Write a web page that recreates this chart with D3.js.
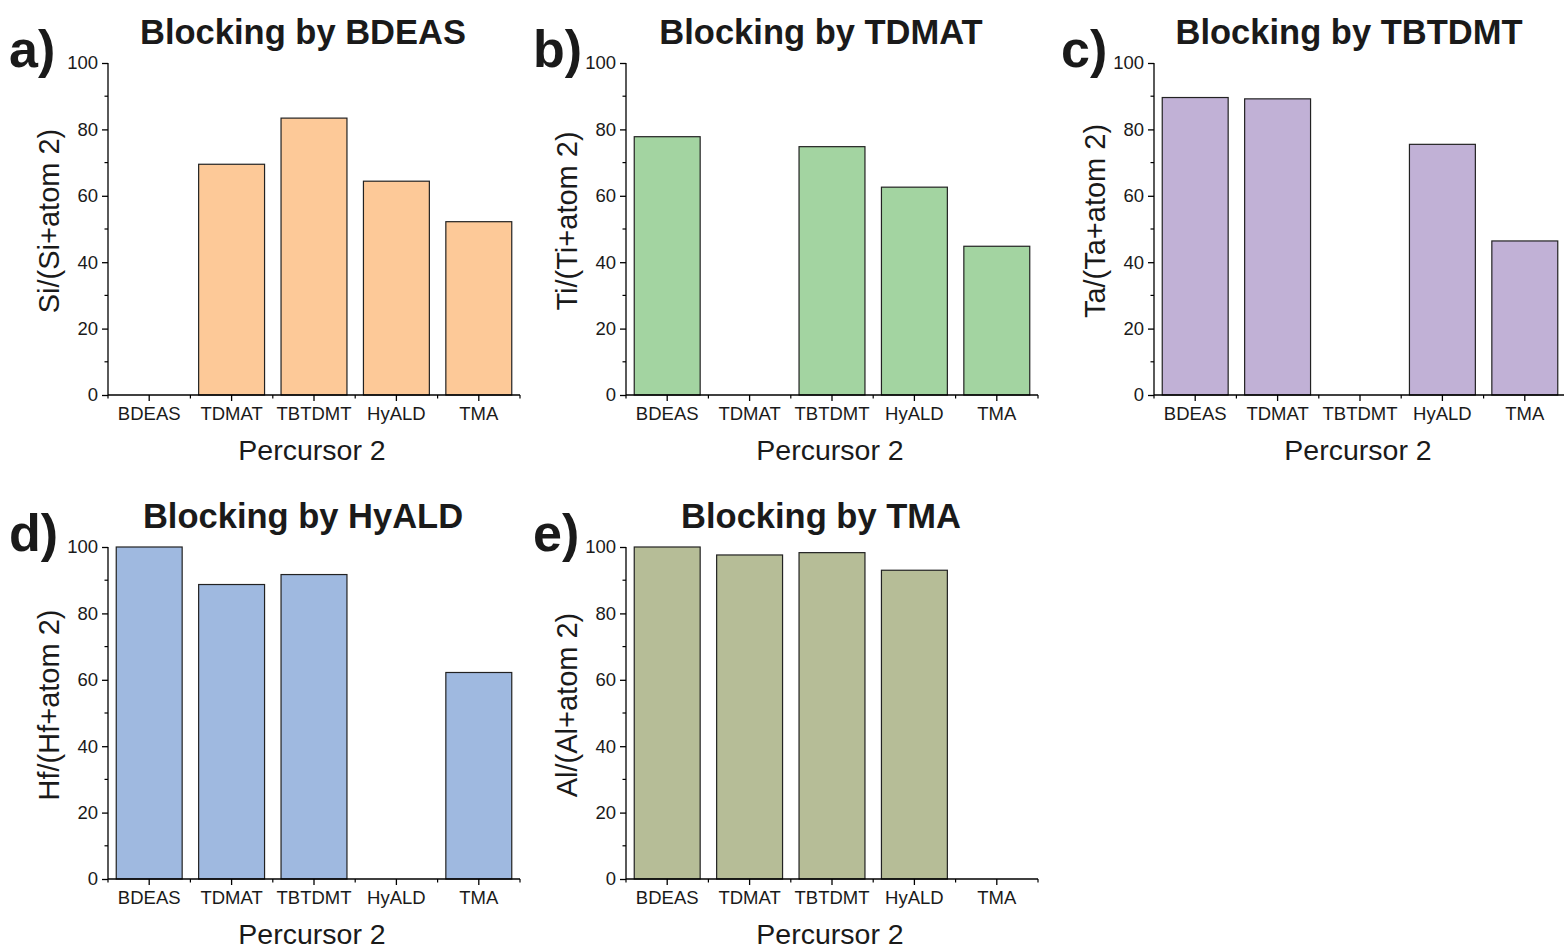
<!DOCTYPE html>
<html>
<head>
<meta charset="utf-8">
<script src="https://cdn.jsdelivr.net/npm/d3@7/dist/d3.min.js"></script>
<style>
  html, body { margin: 0; padding: 0; background: #fff; }
  svg { display: block; }
  text { font-family: "Liberation Sans", Arial, sans-serif; fill: #1a1a1a; }
</style>
</head>
<body>
<svg id="chart" width="1564" height="947"></svg>
<script>
// ---- data ----
const categories = ["BDEAS", "TDMAT", "TBTDMT", "HyALD", "TMA"];
const yTicks = [0, 20, 40, 60, 80, 100];
const titles = ["Blocking by BDEAS", "Blocking by TDMAT", "Blocking by TBTDMT", "Blocking by HyALD", "Blocking by TMA"];
const letters = ["a)", "b)", "c)", "d)", "e)"];
const yLabels = ["Si/(Si+atom 2)", "Ti/(Ti+atom 2)", "Ta/(Ta+atom 2)", "Hf/(Hf+atom 2)", "Al/(Al+atom 2)"];
const xLabel = "Percursor 2";
const valuesBDEAS  = [0, 69.5, 83.4, 64.4, 52.2];
const valuesTDMAT  = [77.8, 0, 74.8, 62.6, 44.8];
const valuesTBTDMT = [89.6, 89.2, 0, 75.5, 46.4];
const valuesHyALD  = [100, 88.7, 91.7, 0, 62.2];
const valuesTMA    = [100, 97.6, 98.3, 93.0, 0];
const seriesValues = [valuesBDEAS, valuesTDMAT, valuesTBTDMT, valuesHyALD, valuesTMA];
const colors = ["#FDC998", "#A3D4A1", "#C1B1D6", "#9FB9E0", "#B6BD97"];

// ---- layout ----
const plotW = 412, plotH = 332;
const panelPos = [
  {x: 108, y: 63, lx: 9},
  {x: 626, y: 63, lx: 533},
  {x: 1154, y: 63, lx: 1061},
  {x: 108, y: 547, lx: 9},
  {x: 626, y: 547, lx: 533}
];
const FONT = "'Liberation Sans', Arial, sans-serif";

const svg = d3.select("#chart");

panelPos.forEach((p, i) => {
  const g = svg.append("g").attr("transform", `translate(${p.x},${p.y})`);
  const x = d3.scaleBand().domain(categories).range([0, plotW]).paddingInner(0.2).paddingOuter(0.1);
  const y = d3.scaleLinear().domain([0, 100]).range([plotH, 0]);
  const data = categories.map((c, k) => ({c, v: seriesValues[i][k]}));

  // bars
  g.selectAll("rect.bar").data(data.filter(d => d.v > 0)).enter().append("rect")
    .attr("class", "bar")
    .attr("x", d => x(d.c))
    .attr("y", d => y(d.v))
    .attr("width", x.bandwidth())
    .attr("height", d => y(0) - y(d.v))
    .attr("fill", colors[i])
    .attr("stroke", "#222")
    .attr("stroke-width", 1.2);

  // y axis
  const yAxis = d3.axisLeft(y).tickValues(yTicks).tickSize(6).tickPadding(4).tickFormat(d3.format("d"));
  const ya = g.append("g").call(yAxis);
  ya.select(".domain").attr("d", `M0,${plotH}V0`).attr("stroke", "#000").attr("stroke-width", 1.3);
  ya.selectAll(".tick line").attr("stroke", "#000").attr("stroke-width", 1.3);
  ya.selectAll(".tick text").style("font-size", "18.5px").style("font-family", FONT).attr("fill", "#1a1a1a");
  // minor y ticks
  const yMinor = d3.range(10, 100, 20);
  g.selectAll("line.yminor").data(yMinor).enter().append("line")
    .attr("x1", -3.5).attr("x2", 0)
    .attr("y1", d => y(d)).attr("y2", d => y(d))
    .attr("stroke", "#000").attr("stroke-width", 1.2);

  // x axis
  const xAxis = d3.axisBottom(x).tickSize(6).tickPadding(6);
  const xa = g.append("g").attr("transform", `translate(0,${plotH})`).call(xAxis);
  xa.select(".domain").attr("d", `M0,0H${plotW}`).attr("stroke", "#000").attr("stroke-width", 1.3);
  xa.selectAll(".tick line").attr("stroke", "#000").attr("stroke-width", 1.3);
  xa.selectAll(".tick text").style("font-size", "18.5px").style("font-family", FONT).attr("fill", "#1a1a1a");
  // minor x ticks at band boundaries
  const bounds = d3.range(0, categories.length + 1).map(k => k * x.step());
  g.selectAll("line.xminor").data(bounds).enter().append("line")
    .attr("x1", d => d).attr("x2", d => d)
    .attr("y1", plotH).attr("y2", plotH + 3.5)
    .attr("stroke", "#000").attr("stroke-width", 1.2);

  // axis titles
  g.append("text")
    .attr("x", plotW / 2 - 2)
    .attr("y", plotH + 65)
    .attr("text-anchor", "middle")
    .style("font-size", "28.5px")
    .text(xLabel);
  g.append("text")
    .attr("transform", `translate(-49,${plotH / 2 - 8}) rotate(-90)`)
    .attr("text-anchor", "middle")
    .style("font-size", "29px")
    .text(yLabels[i]);

  // panel title
  g.append("text")
    .attr("x", plotW / 2 - 11)
    .attr("y", -19)
    .attr("text-anchor", "middle")
    .style("font-size", "34.5px")
    .style("font-weight", "bold")
    .text(titles[i]);

  // panel letter
  svg.append("text")
    .attr("x", p.lx)
    .attr("y", p.y + 4)
    .style("font-size", "52px")
    .style("font-weight", "bold")
    .text(letters[i]);
});
</script>
</body>
</html>
